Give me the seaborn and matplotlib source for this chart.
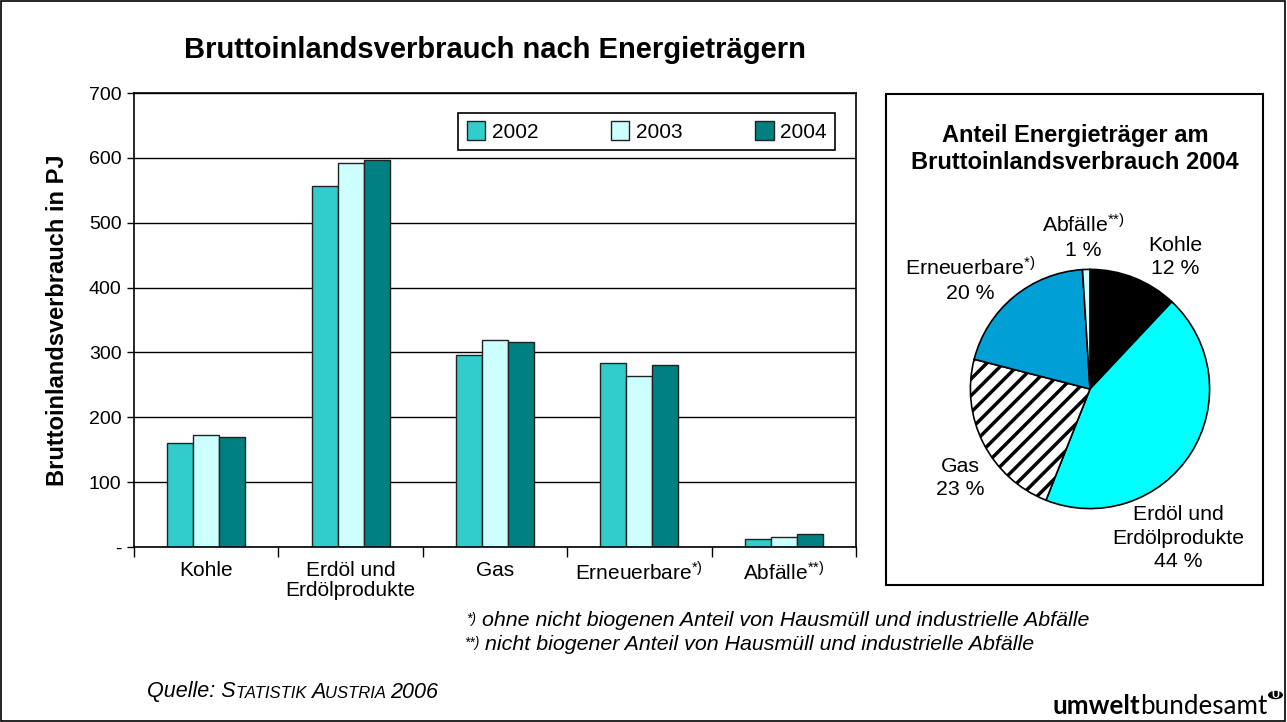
import matplotlib
matplotlib.use("Agg")
import matplotlib.pyplot as plt
import seaborn as sns
import pandas as pd
from matplotlib.patches import Rectangle, Circle
from matplotlib.offsetbox import TextArea, HPacker, AnchoredOffsetbox

# Bar chart data (PJ)
categories = ["Kohle", "Erdöl und Erdölprodukte", "Gas", "Erneuerbare", "Abfälle"]
tick_labels = ["Kohle", "Erdöl und\nErdölprodukte", "Gas",
               r"Erneuerbare$^{\mathregular{*)}}$", r"Abfälle$^{\mathregular{{*}{*})}}$"]
years = ["2002", "2003", "2004"]
v2002 = [160, 557, 296, 283, 12]
v2003 = [173, 592, 319, 264, 16]
v2004 = [169, 596, 316, 280, 20]
year_colors = ["#33CCCC", "#CCFFFF", "#008080"]

yticks = [0, 100, 200, 300, 400, 500, 600, 700]
ytick_labels = ["-", "100", "200", "300", "400", "500", "600", "700"]

# Pie chart data (shares 2004 in %)
pie_names = ["Kohle", "Erdöl und\nErdölprodukte", "Gas",
             r"Erneuerbare$^{\mathregular{*)}}$", r"Abfälle$^{\mathregular{{*}{*})}}$"]
pie_shares = [12, 44, 23, 20, 1]
pie_colors = ["#000000", "#00FFFF", "#FFFFFF", "#00A0D6", "#CCFFFF"]

sns.set_theme(style="white")
plt.rcParams["font.family"] = ["Liberation Sans", "DejaVu Sans"]
plt.rcParams["mathtext.fontset"] = "custom"
plt.rcParams["mathtext.rm"] = "Liberation Sans"
plt.rcParams["mathtext.it"] = "Liberation Sans:italic"
plt.rcParams["hatch.linewidth"] = 2.5
plt.rcParams["hatch.color"] = "black"
for k in ["text.color", "axes.labelcolor", "xtick.color", "ytick.color"]:
    plt.rcParams[k] = "black"

W, H = 1287, 722
fig = plt.figure(figsize=(W / 100, H / 100), dpi=100)

def fx(px):
    return px / W

def fy(py):
    return 1 - py / H

# outer frame
fig.add_artist(Rectangle((0.0005, 0.001), 0.998, 0.997, transform=fig.transFigure,
                         fill=False, edgecolor="black", linewidth=1.2))

# ---- bar chart
df = pd.DataFrame({
    "Kategorie": categories * 3,
    "Jahr": [y for y in years for _ in categories],
    "PJ": v2002 + v2003 + v2004,
})

ax = fig.add_axes([fx(134), fy(547), fx(856) - fx(134), fy(93) - fy(547)])
sns.barplot(data=df, x="Kategorie", y="PJ", hue="Jahr", palette=year_colors,
            width=0.54, edgecolor="#222222", linewidth=1.0, saturation=1, ax=ax)

ax.set_ylim(0, 700)
ax.set_xlim(-0.5, 4.5)
ax.set_yticks(yticks)
ax.set_yticklabels(ytick_labels, fontsize=14)
ax.set_xticks(range(len(categories)))
ax.set_xticklabels(tick_labels, fontsize=15, linespacing=1.1)
ax.set_xticks([i - 0.5 for i in range(len(categories) + 1)], minor=True)
ax.tick_params(axis="x", which="major", length=0, pad=10)
ax.tick_params(axis="x", which="minor", length=7, width=1, color="black", direction="out", bottom=True)
ax.tick_params(axis="y", which="major", length=5, width=1, color="black", direction="out", left=True, pad=4)
ax.yaxis.grid(True, color="black", linewidth=1)
ax.set_axisbelow(True)
for s in ax.spines.values():
    s.set_color("black")
    s.set_linewidth(1.2)
ax.set_xlabel("")
ax.set_ylabel("Bruttoinlandsverbrauch in PJ", fontsize=17, fontweight="bold", labelpad=14)

handles, labels = ax.get_legend_handles_labels()
leg = ax.legend(handles, labels, ncol=3, loc="lower left", mode="expand",
                bbox_to_anchor=(0.449, 0.874, 0.522, 0.082), fontsize=15,
                frameon=True, fancybox=False, framealpha=1, edgecolor="black",
                handlelength=0.9, handleheight=1.0, handletextpad=0.3,
                borderpad=0.4, borderaxespad=0)
leg.get_frame().set_linewidth(1.2)

fig.text(fx(495), fy(50), "Bruttoinlandsverbrauch nach Energieträgern",
         fontsize=21, fontweight="bold", ha="center", va="center")

# ---- pie chart panel
fig.add_artist(Rectangle((fx(886), fy(585)), fx(1263) - fx(886), fy(94) - fy(585),
                         transform=fig.transFigure, fill=False, edgecolor="black", linewidth=1.5))
fig.text(fx(1075), fy(149), "Anteil Energieträger am\nBruttoinlandsverbrauch 2004",
         fontsize=17, fontweight="bold", ha="center", va="center", linespacing=1.25)

r = 122
pax = fig.add_axes([fx(1090 - r), fy(389 + r), fx(2 * r), fy(0) - fy(2 * r)])
wedges, _ = pax.pie(pie_shares, colors=pie_colors, startangle=90, counterclock=False,
                    wedgeprops=dict(edgecolor="black", linewidth=1.2))
wedges[2].set_hatch("//")
pax.set_xlim(-1.02, 1.02)
pax.set_ylim(-1.02, 1.02)

pie_label_pos = [(1175, 257), (1178, 538), (960, 478), (970, 280), (1083, 237)]
for name, share, (px, py) in zip(pie_names, pie_shares, pie_label_pos):
    fig.text(fx(px), fy(py), f"{name}\n{share} %", fontsize=15.3, ha="center",
             va="center", linespacing=1.3)

# ---- footnotes
def packed(parts, x, y, loc="center left", align="top"):
    boxes = [TextArea(t, textprops=p) for t, p in parts]
    pack = HPacker(children=boxes, align=align, pad=0, sep=0)
    anc = AnchoredOffsetbox(loc=loc, child=pack, pad=0, borderpad=0, frameon=False,
                            bbox_to_anchor=(fx(x), fy(y)), bbox_transform=fig.transFigure)
    fig.add_artist(anc)

small_it = dict(fontsize=10, style="italic")
main_it = dict(fontsize=15.4, style="italic")
packed([("*)", small_it), (" ohne nicht biogenen Anteil von Hausmüll und industrielle Abfälle", main_it)], 466, 621)
packed([("**)", small_it), (" nicht biogener Anteil von Hausmüll und industrielle Abfälle", main_it)], 464, 645)

sc_big = dict(fontsize=15.5, style="italic")
sc_small = dict(fontsize=12, style="italic")
packed([("Quelle: S", sc_big), ("TATISTIK ", sc_small), ("A", sc_big), ("USTRIA ", sc_small),
        ("2006", sc_big)], 147, 692, align="baseline")

# ---- logo
packed([("umwelt", dict(fontsize=18.7, fontweight="bold", family="Lato")),
        ("bundesamt", dict(fontsize=18.7, family="Lato"))], 1053, 707, align="baseline")
fig.add_artist(Circle((fx(1275.5), fy(695)), 7.5 / W, transform=fig.transFigure,
                      facecolor="black", edgecolor="none"))
fig.text(fx(1275.5), fy(695), "U", color="white", fontsize=8, fontweight="bold",
         ha="center", va="center")

fig.savefig("out.png", dpi=100)
